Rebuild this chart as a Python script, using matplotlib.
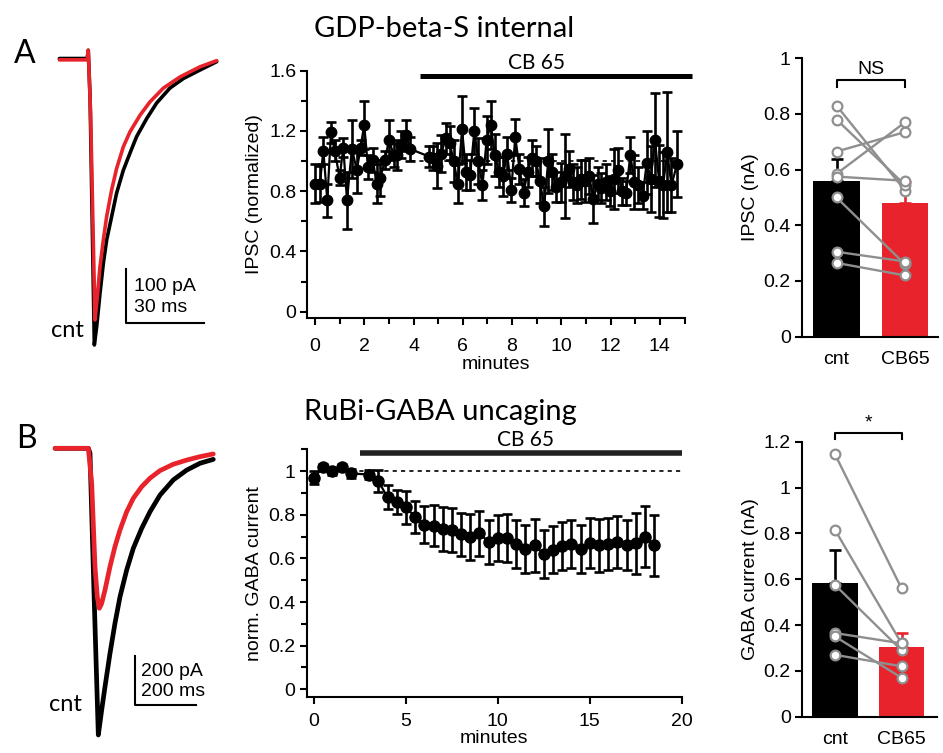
import numpy as np
import matplotlib
matplotlib.use("Agg")
import matplotlib.pyplot as plt
from matplotlib.ticker import MultipleLocator, FormatStrFormatter

plt.rcParams["font.family"] = ["Liberation Sans", "DejaVu Sans"]
plt.rcParams["axes.linewidth"] = 1.5
plt.rcParams["xtick.major.width"] = 1.5
plt.rcParams["ytick.major.width"] = 1.5
plt.rcParams["xtick.minor.width"] = 1.5
plt.rcParams["ytick.minor.width"] = 1.5

TITLE_FONT = ["Lato", "DejaVu Sans"]
RED = "#e8232b"
GREY = "#8f8f8f"

# ---------------------------------------------------------------------------
# Data
# ---------------------------------------------------------------------------
# example traces (time ms, current pA)
trA_t_cnt = [-11.0, -0.3, 0.1, 0.8, 2.44, 3.33, 4.62, 5.9, 7.18, 9.1, 11.0, 13.6,
             16.15, 18.7, 22.6, 26.4, 31.5, 36.7, 43.1, 49.5]
trA_i_cnt = [1.5, 1.5, 17, -70, -536, -502, -439, -383, -339, -295, -251, -208,
             -176, -145, -111, -82, -54, -36, -20, -4.4]
trA_t_cb = [-11.0, -0.3, 0.1, 1.0, 2.69, 3.59, 4.62, 5.9, 7.18, 9.1, 11.0, 13.6,
            16.15, 20.0, 23.8, 29.0, 35.4, 43.1, 49.5]
trA_i_cb = [-1, -1, 17, -101, -489, -445, -389, -339, -295, -245, -205, -164,
            -136, -105, -80, -54, -33, -14, -2.5]

trB_t_cnt = [-111, -3, 2.3, 16, 29.3, 40.2, 51.0, 67.2, 83.4, 99.7, 121.3, 142.9,
             170, 197, 229.5, 272.7, 316, 359.4, 402.6]
trB_i_cnt = [0, 0, -20, -619, -1170, -1068, -973, -837, -714, -606, -497, -408,
             -327, -259, -191, -129, -89, -61, -45]
trB_t_cb = [-111, -3, 7.8, 18.5, 26.0, 32.6, 40.2, 51.0, 67.2, 83.4, 99.7, 121.3,
            142.9, 170, 197, 229.5, 272.7, 316, 359.4, 402.6]
trB_i_cb = [0, 0, -143, -483, -606, -653, -633, -578, -483, -401, -333, -259,
            -204, -157, -122, -91, -65, -48, -34, -23]

# GDP-beta-S time course
gdp_t = [0.00, 0.20, 0.34, 0.50, 0.65, 0.80, 1.00, 1.15, 1.30, 1.50, 1.70, 1.85,
         2.00, 2.15, 2.35, 2.50, 2.65, 2.85, 3.00, 3.20, 3.35, 3.50, 3.70, 3.87,
         4.63, 4.80, 4.97, 5.13, 5.30, 5.47, 5.63, 5.80, 5.97, 6.13, 6.30, 6.47,
         6.63, 6.80, 6.97, 7.13, 7.30, 7.47, 7.63, 7.80, 7.97, 8.13, 8.30, 8.47,
         8.63, 8.80, 8.97, 9.13, 9.30, 9.47, 9.63, 9.80, 9.97, 10.13, 10.30, 10.47,
         10.63, 10.80, 10.97, 11.13, 11.30, 11.47, 11.63, 11.80, 11.97, 12.13, 12.30,
         12.47, 12.63, 12.80, 12.97, 13.13, 13.30, 13.47, 13.63, 13.80, 13.97, 14.13,
         14.30, 14.47, 14.70]
gdp_y = [0.85, 0.85, 1.07, 0.74, 1.19, 1.07, 0.89, 1.09, 0.74, 1.08, 0.94, 1.09,
         1.24, 0.96, 1.01, 0.85, 0.89, 1.01, 1.14, 1.04, 1.04, 1.11, 1.17, 1.08,
         1.03, 1.02, 0.97, 1.05, 1.15, 1.12, 1.00, 0.85, 1.21, 0.93, 0.91, 1.20,
         1.00, 0.84, 1.14, 1.24, 1.04, 0.93, 0.90, 1.05, 0.81, 1.16, 0.95, 0.79,
         0.93, 1.02, 1.00, 0.87, 0.70, 1.00, 0.93, 0.83, 0.86, 0.90, 0.95, 0.86,
         0.84, 0.88, 0.87, 0.90, 0.75, 0.85, 0.82, 0.86, 0.80, 0.88, 0.94,
         0.80, 0.79, 1.04, 0.86, 0.84, 0.77, 0.99, 0.88, 1.14, 0.87, 0.84,
         1.06, 0.84, 0.98]
gdp_err = [0.13, 0.12, 0.09, 0.11, 0.07, 0.07, 0.05, 0.06, 0.19, 0.19, 0.15, 0.05,
           0.16, 0.08, 0.08, 0.13, 0.12, 0.06, 0.13, 0.08, 0.10, 0.09, 0.10, 0.08,
           0.07, 0.08, 0.15, 0.12, 0.10, 0.11, 0.14, 0.13, 0.22, 0.12, 0.10, 0.15,
           0.15, 0.10, 0.16, 0.16, 0.14, 0.10, 0.13, 0.11, 0.08, 0.12, 0.10, 0.09,
           0.10, 0.12, 0.10, 0.15, 0.13, 0.21, 0.12, 0.10, 0.13, 0.28, 0.12, 0.12,
           0.12, 0.13, 0.14, 0.12, 0.16, 0.11, 0.10, 0.12, 0.10, 0.20, 0.15,
           0.09, 0.08, 0.12, 0.18, 0.12, 0.09, 0.21, 0.22, 0.31, 0.24, 0.22,
           0.40, 0.18, 0.22]

# RuBi-GABA time course
rubi_t = [0, 0.5, 1.0, 1.5, 2.0, 3.0, 3.5, 4.0, 4.5, 5.0, 5.5, 6.0, 6.5, 7.0, 7.5,
          8.0, 8.5, 9.0, 9.5, 10.0, 10.5, 11.0, 11.5, 12.0, 12.5, 13.0, 13.5, 14.0,
          14.5, 15.0, 15.5, 16.0, 16.5, 17.0, 17.5, 18.0, 18.5]
rubi_y = [0.97, 1.02, 1.00, 1.02, 0.99, 0.985, 0.955, 0.88, 0.86, 0.835, 0.79, 0.755,
          0.75, 0.735, 0.73, 0.71, 0.70, 0.715, 0.675, 0.695, 0.695, 0.665, 0.645,
          0.66, 0.62, 0.64, 0.655, 0.665, 0.645, 0.67, 0.66, 0.665, 0.675, 0.66,
          0.67, 0.70, 0.66]
rubi_err = [0.03, 0.015, 0.015, 0.015, 0.02, 0.02, 0.05, 0.055, 0.055, 0.075, 0.075,
            0.085, 0.095, 0.10, 0.10, 0.10, 0.105, 0.105, 0.10, 0.105, 0.11, 0.11,
            0.11, 0.12, 0.11, 0.107, 0.11, 0.11, 0.11, 0.115, 0.12, 0.12, 0.12,
            0.115, 0.14, 0.14, 0.14]

# paired IPSC amplitudes (nA)
ipsc_cnt = [0.83, 0.78, 0.665, 0.585, 0.575, 0.50, 0.305, 0.265]
ipsc_cb = [0.525, 0.545, 0.735, 0.77, 0.56, 0.26, 0.27, 0.22]
ipsc_mean = [0.56, 0.479]
ipsc_sem = [0.078, 0.078]

# paired GABA currents (nA)
gaba_cnt = [1.145, 0.815, 0.575, 0.365, 0.35, 0.27]
gaba_cb = [0.56, 0.32, 0.29, 0.32, 0.17, 0.22]
gaba_mean = [0.585, 0.305]
gaba_sem = [0.142, 0.062]

groups = ["cnt", "CB65"]

# ---------------------------------------------------------------------------
fig = plt.figure(figsize=(9.43, 7.53), dpi=100)


def trace_panel(rect, xlim, ylim, t_cnt, i_cnt, t_cb, i_cb, lw, bar, lab):
    ax = fig.add_axes(rect)
    ax.plot(t_cnt, i_cnt, color="black", lw=lw, solid_joinstyle="round",
            solid_capstyle="round")
    ax.plot(t_cb, i_cb, color=RED, lw=lw, solid_joinstyle="round",
            solid_capstyle="round")
    ax.set_xlim(*xlim)
    ax.set_ylim(*ylim)
    ax.axis("off")
    x0, y0, dx, dy = bar
    ax.plot([x0, x0, x0 + dx], [y0 + dy, y0, y0], color="black", lw=1.5)
    ax.text(x0 + dx * 0.1, y0 + dy * 0.68, lab[0], fontsize=14, va="center")
    ax.text(x0 + dx * 0.1, y0 + dy * 0.28, lab[1], fontsize=14, va="center")
    return ax


axA = trace_panel([0.0424, 0.5352, 0.1962, 0.4050], (-18.46, 52.69), (-545.4, 26.8),
                  trA_t_cnt, trA_i_cnt, trA_t_cb, trA_i_cb, 2.6,
                  (14.6, -494, 30, 100), ("100 pA", "30 ms"))
axA.text(-7.9, -508, "cnt", fontsize=17, family=TITLE_FONT, ha="center", va="center")

axB = trace_panel([0.0424, 0.0106, 0.1962, 0.4316], (-160.1, 440.6), (-1211, 115.5),
                  trB_t_cnt, trB_i_cnt, trB_t_cb, trB_i_cb, 3.4,
                  (148, -1048, 200, 200), ("200 pA", "200 ms"))
axB.text(-76, -1045, "cnt", fontsize=17, family=TITLE_FONT, ha="center", va="center")

fig.text(14 / 943, 1 - 63 / 753, "A", fontsize=23, family=TITLE_FONT, va="baseline")
fig.text(16 / 943, 1 - 448 / 753, "B", fontsize=23, family=TITLE_FONT, va="baseline")
fig.text(444 / 943, 1 - 37 / 753, "GDP-beta-S internal", fontsize=21,
         family=TITLE_FONT, ha="center", va="baseline")
fig.text(440 / 943, 1 - 420 / 753, "RuBi-GABA uncaging", fontsize=21,
         family=TITLE_FONT, ha="center", va="baseline")


def style(ax, size=14):
    ax.spines["top"].set_visible(False)
    ax.spines["right"].set_visible(False)
    ax.tick_params(labelsize=size, length=5, direction="out", pad=3)
    ax.tick_params(which="minor", length=4)
    ax.yaxis.set_major_formatter(FormatStrFormatter("%g"))


# --- GDP-beta-S time course ---
ax1 = fig.add_axes([0.3259, 0.5773, 0.4005, 0.3288])
ax1.plot([3.9, 15.0], [1, 1], ls=(0, (2.5, 2.5)), color="black", lw=1.2, zorder=1)
ax1.errorbar(gdp_t, gdp_y, yerr=gdp_err, fmt="-o", color="black", ms=7.5,
             lw=1.6, elinewidth=1.9, capsize=3.5, capthick=1.9, zorder=3)
ax1.plot([4.26, 15.3], [1.567, 1.567], color="black", lw=3.6,
         solid_capstyle="butt", clip_on=False)
ax1.text(9.0, 1.585, "CB 65", fontsize=15, family=TITLE_FONT, ha="center",
         va="bottom", clip_on=False)
ax1.set_xlim(-0.31, 15.02)
ax1.set_ylim(-0.044, 1.6)
ax1.xaxis.set_major_locator(MultipleLocator(2))
ax1.xaxis.set_minor_locator(MultipleLocator(1))
ax1.yaxis.set_major_locator(MultipleLocator(0.4))
ax1.yaxis.set_minor_locator(MultipleLocator(0.2))
style(ax1)
ax1.tick_params(axis="x", pad=9)
ax1.set_xlabel("minutes", fontsize=14, labelpad=1)
ax1.set_ylabel("IPSC (normalized)", fontsize=14, labelpad=4)

# --- RuBi-GABA time course ---
ax2 = fig.add_axes([0.3252, 0.0748, 0.3977, 0.3283])
ax2.plot([2.0, 20.0], [1, 1], ls=(0, (2.5, 2.5)), color="black", lw=1.2, zorder=1)
ax2.errorbar(rubi_t, rubi_y, yerr=rubi_err, fmt="-o", color="black", ms=8,
             lw=1.6, elinewidth=1.9, capsize=3.5, capthick=1.9, zorder=3)
ax2.plot([2.5, 20.0], [1.083, 1.083], color="#222222", lw=4.0,
         solid_capstyle="butt", clip_on=False)
ax2.text(11.5, 1.098, "CB 65", fontsize=15, family=TITLE_FONT, ha="center",
         va="bottom", clip_on=False)
ax2.set_xlim(-0.4, 20)
ax2.set_ylim(-0.034, 1.1)
ax2.xaxis.set_major_locator(MultipleLocator(5))
ax2.yaxis.set_major_locator(MultipleLocator(0.2))
ax2.yaxis.set_minor_locator(MultipleLocator(0.1))
style(ax2)
ax2.tick_params(axis="x", pad=7)
ax2.set_xlabel("minutes", fontsize=14, labelpad=0)
ax2.set_ylabel("norm. GABA current", fontsize=14, labelpad=4)


def bar_panel(rect, xlim, ylim, ystep, width, means, sems, cnt, cb, label,
              sig, sig_y, sig_dy):
    ax = fig.add_axes(rect)
    ax.bar([0, 1], means, width=width, color=["black", RED], zorder=1)
    for x, m, s, c in zip([0, 1], means, sems, ["black", RED]):
        ax.errorbar([x], [m], yerr=[[0], [s]], fmt="none", ecolor=c,
                    elinewidth=1.9, capsize=4, capthick=1.9, zorder=2)
    for a, b in zip(cnt, cb):
        ax.plot([0, 1], [a, b], color=GREY, lw=1.7, zorder=3)
    ax.plot(np.zeros(len(cnt)), cnt, "o", mfc="white", mec=GREY, mew=1.6,
            ms=7, zorder=4, ls="none")
    ax.plot(np.ones(len(cb)), cb, "o", mfc="white", mec=GREY, mew=1.6,
            ms=7, zorder=4, ls="none")
    ax.plot([0, 0, 1, 1], [sig_y - sig_dy, sig_y, sig_y, sig_y - sig_dy],
            color="black", lw=1.5, clip_on=False)
    ax.text(0.5, sig_y + sig_dy * 0.3, sig, fontsize=14, ha="center",
            va="bottom", clip_on=False)
    ax.set_xlim(*xlim)
    ax.set_ylim(*ylim)
    ax.set_xticks([0, 1])
    ax.set_xticklabels(groups)
    ax.yaxis.set_major_locator(MultipleLocator(ystep))
    style(ax, 14)
    ax.tick_params(axis="x", length=0, pad=10)
    ax.set_ylabel(label, fontsize=14, labelpad=3)
    return ax


bar_panel([0.8502, 0.5529, 0.1445, 0.3697], (-0.508, 1.482), (0, 1), 0.2, 0.686,
          ipsc_mean, ipsc_sem, ipsc_cnt, ipsc_cb, "IPSC (nA)", "NS", 0.922, 0.024)
bar_panel([0.8502, 0.0482, 0.1432, 0.3652], (-0.5, 1.53), (0, 1.2), 0.2, 0.69,
          gaba_mean, gaba_sem, gaba_cnt, gaba_cb, "GABA current (nA)", "*",
          1.236, 0.026)

fig.savefig("out.png", dpi=100, facecolor="white")
